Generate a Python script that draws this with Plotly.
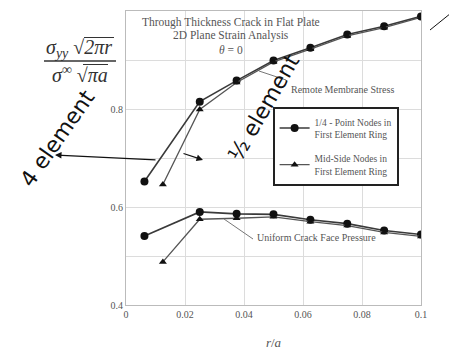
import plotly.graph_objects as go

# ---- data ----
x_quarter = [0.00625, 0.025, 0.0375, 0.05, 0.0625, 0.075, 0.0875, 0.1]
y_quarter_membrane = [0.652, 0.815, 0.858, 0.899, 0.925, 0.952, 0.969, 0.989]
y_quarter_pressure = [0.541, 0.590, 0.586, 0.585, 0.574, 0.566, 0.552, 0.544]

x_midside = [0.0125, 0.025, 0.0375, 0.05, 0.0625, 0.075, 0.0875, 0.1]
y_midside_membrane = [0.646, 0.799, 0.854, 0.896, 0.922, 0.949, 0.966, 0.987]
y_midside_pressure = [0.488, 0.575, 0.577, 0.580, 0.570, 0.562, 0.548, 0.540]

x_ticks = [0, 0.02, 0.04, 0.06, 0.08, 0.1]
x_tick_labels = ["0", "0.02", "0.04", "0.06", "0.08", "0.1"]
y_ticks = [0.4, 0.6, 0.8, 1.0]
y_tick_labels = ["0.4", "0.6", "0.8", "1"]

title_lines = ["Through Thickness Crack in Flat Plate", "2D Plane Strain Analysis", "<i>θ</i> = 0"]
legend_quarter = "1/4 - Point Nodes in<br>First Element Ring"
legend_midside = "Mid-Side Nodes in<br>First Element Ring"

SERIF = "Liberation Serif"
LINE = "#3a3a3a"

fig = go.Figure()
fig.add_trace(go.Scatter(
    x=x_quarter + [None] + x_quarter,
    y=y_quarter_membrane + [None] + y_quarter_pressure,
    mode="lines+markers", name=legend_quarter, legendgroup="q",
    line=dict(color=LINE, width=1.6),
    marker=dict(symbol="circle", size=8, color="#111"),
))
fig.add_trace(go.Scatter(
    x=x_midside + [None] + x_midside,
    y=y_midside_membrane + [None] + y_midside_pressure,
    mode="lines+markers", name=legend_midside, legendgroup="m",
    line=dict(color="#555", width=1.3),
    marker=dict(symbol="triangle-up", size=7, color="#111"),
))

# page body has an 8px margin, so the figure is 8px smaller and margins compensate
fig.update_layout(
    width=449, height=346,
    margin=dict(l=118, r=36, t=3, b=49),
    paper_bgcolor="white", plot_bgcolor="white",
    font=dict(family=SERIF, size=10, color="#555"),
    showlegend=True,
    legend=dict(x=0.497, y=0.673, xanchor="left", yanchor="top",
                bgcolor="white", bordercolor="#222", borderwidth=2,
                font=dict(family=SERIF, size=9.5, color="#555"),
                tracegroupgap=9, itemwidth=30),
    xaxis=dict(range=[0, 0.1], tickvals=x_ticks, ticktext=x_tick_labels,
               showgrid=True, gridcolor="#dcdcdc", gridwidth=1,
               showline=True, linecolor="#bbb", mirror=True,
               ticks="", zeroline=False,
               tickfont=dict(family=SERIF, size=10, color="#555"),
               title=dict(text="<i>r</i>/<i>a</i>", font=dict(family=SERIF, size=13, color="#555"), standoff=18)),
    yaxis=dict(range=[0.4, 1.0], tickvals=y_ticks, ticktext=y_tick_labels,
               showgrid=True, gridcolor="#dcdcdc", gridwidth=1,
               minor=dict(dtick=0.1, tick0=0.4, showgrid=True, gridcolor="#dcdcdc"),
               showline=True, linecolor="#bbb", mirror=True,
               ticks="", zeroline=False,
               tickfont=dict(family=SERIF, size=10, color="#555")),
)


def px(xp):
    return (xp - 126) / 295


def py(yp):
    return (305 - yp) / 294


# title block
for i, t in enumerate(title_lines):
    fig.add_annotation(xref="paper", yref="paper", x=px(231), y=py(22 + 14 * i),
                       text=t, showarrow=False, xanchor="center", yanchor="middle",
                       font=dict(family=SERIF, size=11.5, color="#555"))

# callouts
fig.add_annotation(xref="paper", yref="paper", x=px(289), y=py(82),
                   text="Remote Membrane Stress", showarrow=False, xanchor="left",
                   font=dict(family=SERIF, size=10, color="#555"))
fig.add_annotation(xref="paper", yref="paper", x=px(255), y=py(245),
                   text="Uniform Crack Face Pressure", showarrow=False, xanchor="left",
                   font=dict(family=SERIF, size=10, color="#555"))
fig.add_shape(type="line", xref="paper", yref="paper", x0=px(286), y0=py(80), x1=px(259), y1=py(71),
              line=dict(color="#777", width=1))
fig.add_shape(type="line", xref="paper", yref="paper", x0=px(253), y0=py(239), x1=px(224), y1=py(219),
              line=dict(color="#777", width=1))

# y-axis title as a fraction
fig.add_annotation(xref="paper", yref="paper", x=px(79), y=py(48), xanchor="center", yanchor="middle",
                   text="<i>σ<sub>yy</sub></i> √<i>2πr</i>", showarrow=False,
                   font=dict(family=SERIF, size=20, color="#333"))
fig.add_annotation(xref="paper", yref="paper", x=px(80), y=py(74), xanchor="center", yanchor="middle",
                   text="<i>σ</i><sup>∞</sup> √<i>πa</i>", showarrow=False,
                   font=dict(family=SERIF, size=20, color="#333"))
fig.add_shape(type="line", xref="paper", yref="paper", x0=px(44), y0=py(61), x1=px(116), y1=py(61),
              line=dict(color="#333", width=1.5))
fig.add_shape(type="line", xref="paper", yref="paper", x0=px(84), y0=py(37.5), x1=px(114), y1=py(37.5),
              line=dict(color="#333", width=1))
fig.add_shape(type="line", xref="paper", yref="paper", x0=px(83), y0=py(64.5), x1=px(108), y1=py(64.5),
              line=dict(color="#333", width=1))

# handwriting (approximate)
fig.add_annotation(xref="paper", yref="paper", x=px(57), y=py(138), text="4 element",
                   textangle=-55, showarrow=False, xanchor="center", yanchor="middle",
                   font=dict(family="DejaVu Sans", size=22, color="#111"))
fig.add_annotation(xref="paper", yref="paper", x=px(263), y=py(108), text="½ element",
                   textangle=-60, showarrow=False, xanchor="center", yanchor="middle",
                   font=dict(family="DejaVu Sans", size=22, color="#111"))
fig.add_annotation(xref="paper", yref="paper", x=px(55), y=py(155), ax=102, ay=5,
                   text="", showarrow=True,
                   arrowhead=2, arrowwidth=1.3, arrowcolor="#111")
fig.add_annotation(xref="paper", yref="paper", x=px(203), y=py(160), ax=-21, ay=-7,
                   text="", showarrow=True,
                   arrowhead=2, arrowwidth=1.3, arrowcolor="#111")
fig.add_shape(type="line", xref="paper", yref="paper", x0=px(430), y0=py(30), x1=px(456), y1=py(9),
              line=dict(color="#111", width=1))

fig.write_html("out.html")
